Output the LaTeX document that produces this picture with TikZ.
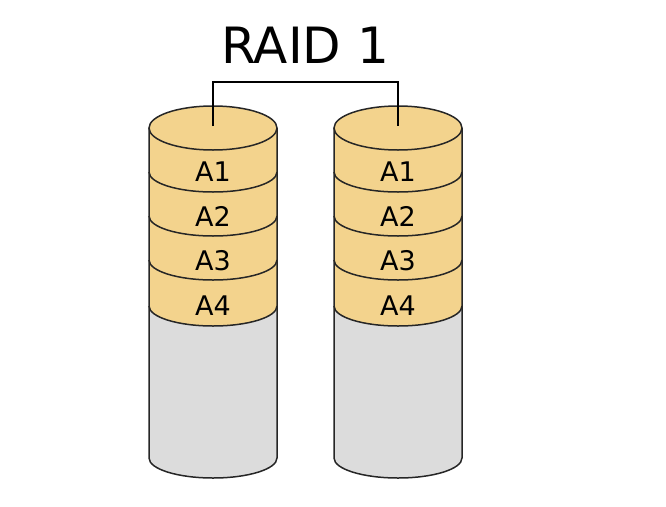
\documentclass[tikz,border=0pt]{standalone}
\usepackage{fontspec}
\setmainfont{DejaVu Sans}
\begin{document}
\begin{tikzpicture}[x=1pt,y=-1pt,
  disk/.style={draw=black!85,line width=1.5pt},
  lbl/.style={font=\fontsize{27}{29}\selectfont,inner sep=0pt}]
\useasboundingbox (0,0) rectangle (666,506);
\definecolor{gold}{HTML}{F3D38D}
\definecolor{gry}{HTML}{DCDCDC}
\node[font=\fontsize{50}{54}\selectfont,inner sep=0pt] (title) at (305,45) {RAID 1};
\foreach \cx/\n in {213/L,398/R}{
  \fill[gry] (\cx-64,306) -- (\cx-64,458) arc[start angle=180,end angle=0,x radius=64,y radius=20] -- (\cx+64,306) -- cycle;
  \fill[gold] (\cx-64,128) -- (\cx-64,306) arc[start angle=180,end angle=0,x radius=64,y radius=20] -- (\cx+64,128) -- cycle;
  \draw[disk,fill=gold] (\cx,128) ellipse[x radius=64,y radius=22];
  \foreach \yy in {172,216,260,306}
    \draw[disk] (\cx-64,\yy) arc[start angle=180,end angle=0,x radius=64,y radius=20];
  \draw[disk] (\cx-64,128) -- (\cx-64,458) arc[start angle=180,end angle=0,x radius=64,y radius=20] -- (\cx+64,128);
  \node[lbl] (a1\n) at (\cx,172) {A1};
  \node[lbl] (a2\n) at (\cx,216) {A2};
  \node[lbl] (a3\n) at (\cx,261) {A3};
  \node[lbl] (a4\n) at (\cx,306) {A4};
  \coordinate (top\n) at (\cx,126);
}
\draw[line width=1.2pt] (topL) -- ++(0,-44) -| (topR);
\end{tikzpicture}
\end{document}
